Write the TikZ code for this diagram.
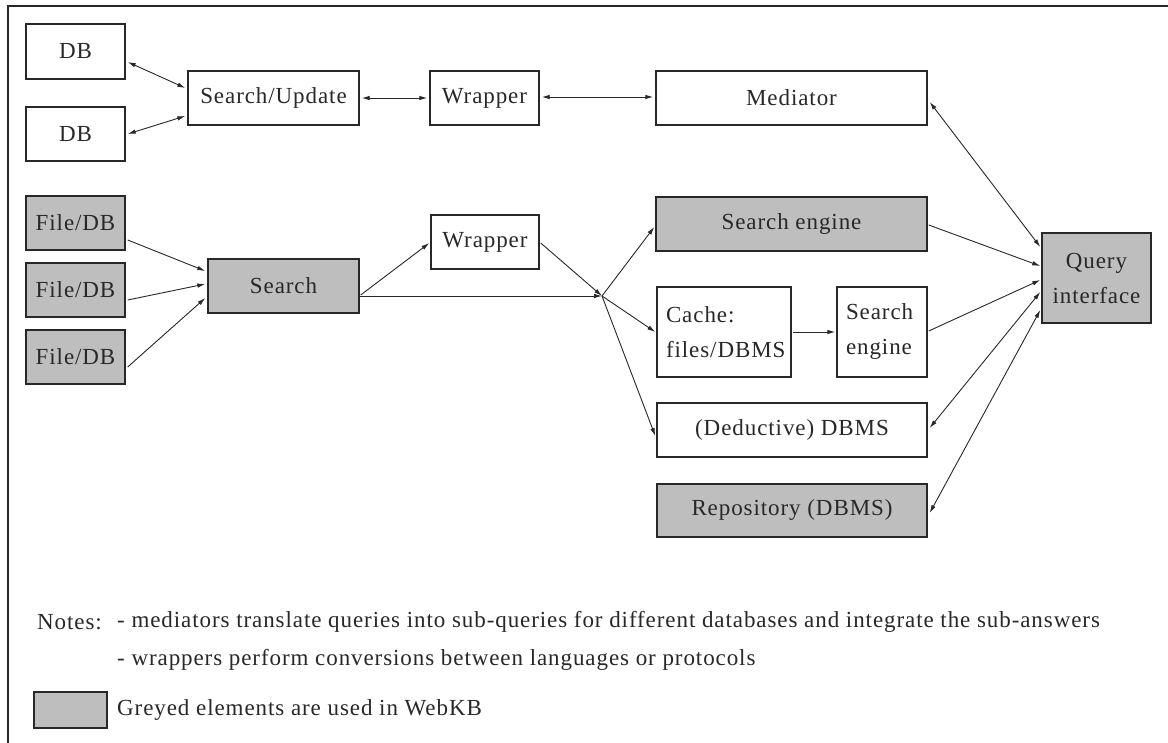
\documentclass[tikz,border=0pt]{standalone}
\usepackage{fontspec}
\setmainfont{Liberation Serif}[LetterSpace=4]
\usetikzlibrary{arrows.meta}
\definecolor{boxgrey}{RGB}{190,190,190}
\definecolor{ink}{RGB}{40,40,40}
\begin{document}
\begin{tikzpicture}[x=1pt,y=-1pt,
  box/.style={draw=ink,line width=1.4pt,inner sep=0pt,text=ink,
    font=\fontsize{23}{35}\selectfont},
  grey/.style={box,fill=boxgrey},
  conn/.style={draw=ink,line width=0.9pt,-{Latex[length=8pt,width=4.5pt]}},
  bconn/.style={conn,{Latex[length=8pt,width=4.5pt]}-{Latex[length=8pt,width=4.5pt]}},
  note/.style={anchor=west,inner sep=0pt,text=ink,font=\fontsize{23}{27}\selectfont}]
\useasboundingbox (0,0) rectangle (1168,743);
\fill[white] (0,0) rectangle (1168,743);
% frame
\draw[ink,line width=1.8pt] (8,743) -- (8,6) -- (1168,6);
% top row
\node[box,minimum width=99pt,minimum height=55pt] (db1) at (75.5,51.5) {DB};
\node[box,minimum width=99pt,minimum height=54pt] (db2) at (75.5,134) {DB};
\node[box,minimum width=171pt,minimum height=54pt] (su) at (273.5,98) {Search/Update};
\node[box,minimum width=109pt,minimum height=54pt] (wr1) at (484.5,98) {Wrapper};
\node[box,minimum width=271pt,minimum height=54pt] (med) at (791.5,98) {Mediator};
% files
\node[grey,minimum width=99pt,minimum height=54pt] (f1) at (75.5,223) {File/DB};
\node[grey,minimum width=99pt,minimum height=54pt] (f2) at (75.5,290) {File/DB};
\node[grey,minimum width=99pt,minimum height=54pt] (f3) at (75.5,357) {File/DB};
\node[grey,minimum width=151pt,minimum height=54pt] (srch) at (283.5,286) {Search};
\node[box,minimum width=108pt,minimum height=54pt] (wr2) at (485,242) {Wrapper};
\coordinate (J) at (602,296);
% right column
\node[grey,minimum width=271pt,minimum height=54pt] (se) at (791.5,224) {Search engine};
\node[box,minimum width=134pt,minimum height=90pt,align=left,text width=116pt] (cache) at (724,332) {Cache:\\files/DBMS};
\node[box,minimum width=90pt,minimum height=90pt,align=left,text width=72pt] (se2) at (882,332) {Search\\engine};
\node[box,minimum width=270pt,minimum height=54pt] (ded) at (792,430) {(Deductive) DBMS};
\node[grey,minimum width=270pt,minimum height=53pt] (rep) at (792,510.5) {Repository (DBMS)};
\node[grey,minimum width=109pt,minimum height=90pt,align=center] (qi) at (1096.5,278) {Query\\interface};
% connectors top
\draw[bconn] ([xshift=2pt,yshift=-10.5pt]db1.east) -- ([xshift=-2pt,yshift=10pt]su.west);
\draw[bconn] ([xshift=2pt]db2.east) -- ([xshift=-2pt,yshift=-18pt]su.west);
\draw[bconn] ([xshift=2pt]su.east) -- ([xshift=-2pt]wr1.west);
\draw[bconn] ([xshift=2pt,yshift=1pt]wr1.east) -- ([xshift=-2pt,yshift=1pt]med.west);
\draw[bconn] ([xshift=2pt,yshift=-4pt]med.east) -- ([xshift=-1pt,yshift=31pt]qi.west);
% files to search
\draw[conn] ([xshift=2pt,yshift=-17pt]f1.east) -- ([xshift=-2pt,yshift=15pt]srch.west);
\draw[conn] ([xshift=2pt,yshift=-10pt]f2.east) -- ([xshift=-2pt,yshift=2pt]srch.west);
\draw[conn] ([xshift=2pt,yshift=-10pt]f3.east) -- ([xshift=-2pt,yshift=-12pt]srch.west);
\draw[conn] ([xshift=1pt,yshift=-9pt]srch.east) -- ([xshift=-1pt,yshift=-1pt]wr2.west);
\draw[conn] ([yshift=-10pt]srch.east) -- (J);
\draw[conn] ([xshift=1pt,yshift=-1pt]wr2.east) -- (J);
\draw[conn] (J) -- ([xshift=-1pt,yshift=-3pt]se.west);
\draw[conn] (J) -- ([xshift=-1pt]cache.west);
\draw[conn] (J) -- ([xshift=-1pt,yshift=-6pt]ded.west);
\draw[conn] ([xshift=1pt]cache.east) -- ([xshift=-1pt]se2.west);
% to query interface
\draw[conn] ([xshift=1pt,yshift=-1pt]se.east) -- ([xshift=-1pt,yshift=12pt]qi.west);
\draw[conn] ([xshift=1pt,yshift=1pt]se2.east) -- ([xshift=-1pt,yshift=-2pt]qi.west);
\draw[bconn] ([xshift=2pt,yshift=2pt]ded.east) -- ([xshift=-1pt,yshift=-14pt]qi.west);
\draw[bconn] ([xshift=2pt,yshift=-2.5pt]rep.east) -- ([xshift=-1pt,yshift=-32pt]qi.west);
% notes
\node[note] (n0) at (37,622) {Notes:};
\node[note] (n1) at (117,622) {- mediators translate queries into sub-queries for different databases and integrate the sub-answers};
\node[note] (n2) at (117,660) {- wrappers perform conversions between languages or protocols};
\node[grey,minimum width=73pt,minimum height=36pt] (leg) at (70.5,710) {};
\node[note] (n3) at (117,710) {Greyed elements are used in WebKB};
\end{tikzpicture}
\end{document}
